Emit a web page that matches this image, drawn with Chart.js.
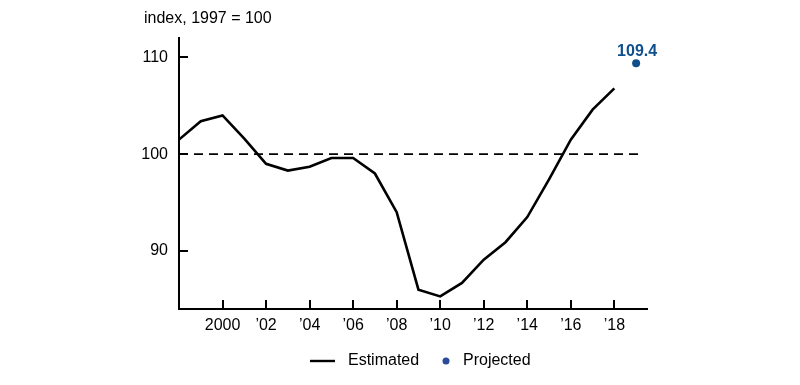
<!DOCTYPE html>
<html>
<head>
<meta charset="utf-8">
<script src="https://cdn.jsdelivr.net/npm/chart.js@4"></script>
<style>
  html, body { margin: 0; padding: 0; background: #fff; }
  #wrap { width: 800px; height: 385px; }
</style>
</head>
<body>
<div id="wrap"><canvas id="myChart" width="800" height="385"></canvas></div>
<script>
const years = [1998, 1999, 2000, 2001, 2002, 2003, 2004, 2005, 2006, 2007, 2008,
  2009, 2010, 2011, 2012, 2013, 2014, 2015, 2016, 2017, 2018]
const estimated = [101.5, 103.4, 104.0, 101.6, 99.0, 98.3, 98.7, 99.6, 99.6, 98.0, 94.0,
  86.0, 85.3, 86.7, 89.1, 90.9, 93.5, 97.4, 101.5, 104.6, 106.8]
const projectedYear = 2019
const projectedValue = 109.4
const xTickValues = [2000, 2002, 2004, 2006, 2008, 2010, 2012, 2014, 2016, 2018]
const xTickLabels = ['2000', '\u201902', '\u201904', '\u201906', '\u201908', '\u201910', '\u201912', '\u201914', '\u201916', '\u201918']
const yTickValues = [90, 100, 110]
const yTitle = 'index, 1997 = 100'
const legendLabels = ['Estimated', 'Projected']

const FONT = '"Liberation Sans", Arial, Helvetica, sans-serif'
const BLUE = '#0f4f8c'
const LEGEND_BLUE = '#2b4a9c'

// ticks pointing into the plot, plus the axis title
const innerTicks = {
  id: 'innerTicks',
  afterDraw(chart) {
    const ctx = chart.ctx
    const x = chart.scales.x, y = chart.scales.y
    const area = chart.chartArea
    ctx.save()
    ctx.strokeStyle = '#000'
    ctx.lineWidth = 2
    yTickValues.forEach(v => {
      const py = Math.round(y.getPixelForValue(v))
      ctx.beginPath()
      ctx.moveTo(area.left, py)
      ctx.lineTo(area.left + 9, py)
      ctx.stroke()
    })
    xTickValues.forEach(v => {
      const px = Math.round(x.getPixelForValue(v))
      ctx.beginPath()
      ctx.moveTo(px, area.bottom)
      ctx.lineTo(px, area.bottom - 9)
      ctx.stroke()
    })
    ctx.fillStyle = '#000'
    ctx.font = '16px ' + FONT
    ctx.textBaseline = 'middle'
    ctx.textAlign = 'left'
    ctx.fillText(yTitle, 144, 19)
    ctx.restore()
  }
}

// label above the projected point
const pointLabel = {
  id: 'pointLabel',
  afterDatasetsDraw(chart) {
    const ctx = chart.ctx
    const px = chart.scales.x.getPixelForValue(projectedYear)
    const py = chart.scales.y.getPixelForValue(projectedValue)
    ctx.save()
    ctx.fillStyle = BLUE
    ctx.font = 'bold 16px ' + FONT
    ctx.textAlign = 'center'
    ctx.textBaseline = 'alphabetic'
    ctx.fillText(projectedValue.toFixed(1), px + 1, py - 7)
    ctx.restore()
  }
}

// legend under the chart
const bottomLegend = {
  id: 'bottomLegend',
  afterDraw(chart) {
    const ctx = chart.ctx
    const ly = 361
    ctx.save()
    ctx.font = '16px ' + FONT
    ctx.textBaseline = 'middle'
    ctx.textAlign = 'left'
    ctx.fillStyle = '#000'
    ctx.strokeStyle = '#000'
    ctx.lineWidth = 2.4
    ctx.beginPath()
    ctx.moveTo(310, ly)
    ctx.lineTo(335, ly)
    ctx.stroke()
    ctx.fillText(legendLabels[0], 348, ly)
    ctx.fillStyle = LEGEND_BLUE
    ctx.beginPath()
    ctx.arc(446, ly, 3.5, 0, Math.PI * 2)
    ctx.fill()
    ctx.fillStyle = '#000'
    ctx.fillText(legendLabels[1], 463, ly)
    ctx.restore()
  }
}

function initChart() {
  const ctx = document.getElementById('myChart').getContext('2d')
  return new Chart(ctx, {
    type: 'line',
    data: {
      datasets: [{
        label: legendLabels[0],
        data: years.map((yr, i) => ({x: yr, y: estimated[i]})),
        borderColor: '#000',
        borderWidth: 2.6,
        pointRadius: 0,
        tension: 0
      }, {
        label: legendLabels[1],
        data: [{x: projectedYear, y: projectedValue}],
        showLine: false,
        pointRadius: 4,
        pointBackgroundColor: BLUE,
        pointBorderColor: BLUE,
        borderWidth: 0
      }, {
        label: 'ref',
        data: [{x: 1998, y: 100}, {x: 2019.1, y: 100}],
        borderColor: '#000',
        borderWidth: 1.8,
        borderDash: [9, 6],
        pointRadius: 0
      }]
    },
    options: {
      responsive: false,
      animation: false,
      layout: { padding: { top: 38, right: 153, bottom: 40, left: 0 } },
      plugins: {
        legend: { display: false },
        tooltip: { enabled: false }
      },
      scales: {
        x: {
          type: 'linear',
          min: 1998,
          max: 2019.5,
          afterBuildTicks: scale => { scale.ticks = xTickValues.map(v => ({value: v})) },
          afterFit: scale => { scale.height = 36 },
          grid: { drawOnChartArea: false, drawTicks: false },
          border: { color: '#000', width: 2 },
          ticks: {
            color: '#000',
            padding: 7,
            maxRotation: 0,
            autoSkip: false,
            font: { family: FONT, size: 16 },
            callback: v => xTickLabels[xTickValues.indexOf(v)]
          }
        },
        y: {
          min: 84,
          max: 112,
          afterBuildTicks: scale => { scale.ticks = yTickValues.map(v => ({value: v})) },
          afterFit: scale => { scale.width = 179 },
          grid: { drawOnChartArea: false, drawTicks: false },
          border: { color: '#000', width: 2 },
          ticks: {
            color: '#000',
            padding: 11,
            font: { family: FONT, size: 16 }
          }
        }
      }
    },
    plugins: [innerTicks, pointLabel, bottomLegend]
  })
}

initChart()
</script>
</body>
</html>
